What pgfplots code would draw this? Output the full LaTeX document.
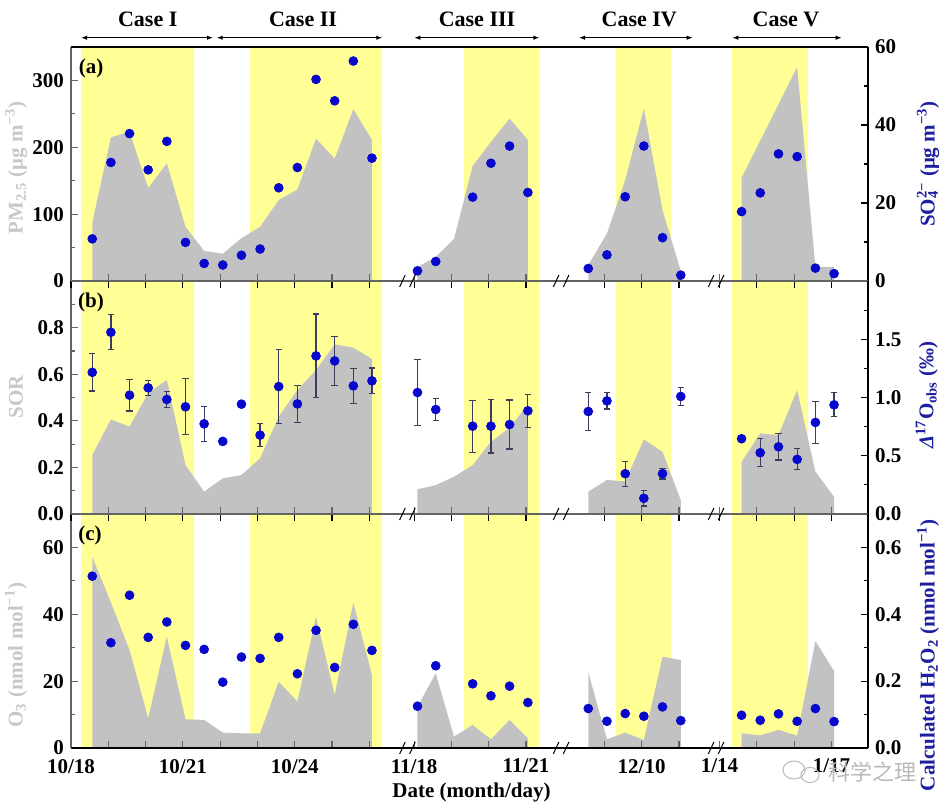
\documentclass[border=0pt]{standalone}
\usepackage{fontspec}
\setmainfont{Liberation Serif}
\newfontfamily\cjk{Noto Sans CJK SC}
\usepackage{pgfplots}
\usepackage{pgfplotstable}
\pgfplotsset{compat=1.18}
\usetikzlibrary{arrows.meta}

\definecolor{band}{RGB}{255,255,150}
\definecolor{area}{RGB}{194,194,194}
\definecolor{dot}{RGB}{8,8,205}
\definecolor{rlab}{RGB}{30,30,160}
\definecolor{llab}{RGB}{200,200,200}
\definecolor{lgray}{RGB}{100,100,100}
\definecolor{ebar}{RGB}{60,60,95}
\newcommand\tf{\fontsize{10.5}{12}\selectfont\bfseries}

% ---------- blue dots (right axes) ----------
\pgfplotstableread[row sep=\\]{
x y\\
0.57 10.8\\ 1.07 30.4\\ 1.57 37.8\\ 2.07 28.5\\ 2.57 35.8\\ 3.07 9.9\\ 3.57 4.5\\ 4.07 4.1\\
4.57 6.6\\ 5.07 8.2\\ 5.57 23.9\\ 6.07 29.1\\ 6.57 51.7\\ 7.07 46.2\\ 7.57 56.4\\ 8.07 31.5\\
9.29 2.6\\ 9.78 5.0\\ 10.77 21.5\\ 11.26 30.2\\ 11.76 34.6\\ 12.25 22.7\\
13.87 3.2\\ 14.37 6.7\\ 14.86 21.6\\ 15.36 34.6\\ 15.86 11.1\\ 16.35 1.5\\
17.98 17.8\\ 18.48 22.6\\ 18.97 32.6\\ 19.47 31.9\\ 19.96 3.3\\ 20.46 1.9\\
}\soa
\pgfplotstableread[row sep=\\]{
x y e\\
0.57 1.216 0.16\\ 1.07 1.56 0.15\\ 1.57 1.02 0.135\\ 2.07 1.083 0.065\\ 2.57 0.983 0.07\\
3.07 0.92 0.24\\ 3.57 0.774 0.15\\ 4.07 0.623 0\\ 4.57 0.943 0\\ 5.07 0.677 0.1\\
5.57 1.094 0.32\\ 6.07 0.945 0.157\\ 6.57 1.357 0.36\\ 7.07 1.314 0.21\\ 7.57 1.10 0.15\\ 8.07 1.143 0.11\\
9.29 1.043 0.28\\ 9.78 0.897 0.095\\ 10.77 0.754 0.223\\ 11.26 0.754 0.23\\ 11.76 0.768 0.21\\ 12.25 0.886 0.14\\
13.87 0.88 0.16\\ 14.37 0.971 0.07\\ 14.86 0.346 0.107\\ 15.36 0.135 0.067\\ 15.86 0.346 0.046\\ 16.35 1.009 0.077\\
17.98 0.646 0\\ 18.48 0.526 0.12\\ 18.97 0.577 0.114\\ 19.47 0.469 0.09\\ 19.96 0.786 0.18\\ 20.46 0.937 0.103\\
}\dob
\pgfplotstableread[row sep=\\]{
x y\\
0.57 0.514\\ 1.07 0.315\\ 1.57 0.457\\ 2.07 0.331\\ 2.57 0.377\\ 3.07 0.307\\ 3.57 0.295\\ 4.07 0.197\\
4.57 0.272\\ 5.07 0.268\\ 5.57 0.331\\ 6.07 0.222\\ 6.57 0.352\\ 7.07 0.241\\ 7.57 0.37\\ 8.07 0.292\\
9.29 0.125\\ 9.78 0.246\\ 10.77 0.192\\ 11.26 0.156\\ 11.76 0.185\\ 12.25 0.136\\
13.87 0.118\\ 14.37 0.08\\ 14.86 0.103\\ 15.36 0.095\\ 15.86 0.123\\ 16.35 0.082\\
17.98 0.098\\ 18.48 0.083\\ 18.97 0.102\\ 19.47 0.08\\ 19.96 0.118\\ 20.46 0.079\\
}\hoc

\pgfplotsset{
  panelbase/.style={scale only axis, width=398.5pt, xmin=0, xmax=21.37,
    tick align=inside, major tick length=3.5pt, minor tick length=2pt,
    /pgf/number format/assume math mode=true,
    ticklabel style={font=\tf, text=black},
    xticklabel style={yshift=-2pt},
    xtick={0,1,2,3,4,5,6,7,8,9.2,10.2,11.2,12.2,14.3,15.3,16.3,17.39,18.39,19.39,20.39},
    xticklabels={}, axis on top},
  leftpanel/.style={panelbase, axis x line*=bottom, axis y line*=left,
    axis line style={lgray, line width=0.75pt}, tick style={lgray, line width=0.6pt}},
  rightpanel/.style={panelbase, axis x line*=top, axis y line*=right,
    y axis line style={black, line width=0.75pt}, x axis line style={lgray, line width=0.75pt},
    tick style={black, line width=0.6pt}},
  bandplot/.style={fill=band, draw=none, forget plot},
  areaplot/.style={fill=area, draw=none, forget plot},
  dotplot/.style={only marks, mark=*, mark size=2.2pt, mark options={draw=dot, fill=dot}},
}

\begin{document}
\begin{tikzpicture}
\path[use as bounding box] (0,0) rectangle (474pt,-405pt);

% ================= Panel (a) =================
\begin{axis}[leftpanel, at={(35.5pt,-23.5pt)}, anchor=north west, height=117pt,
  ymin=0, ymax=350, ytick={0,100,200,300}, yticklabels={0,100,200,300}, minor ytick={50,150,250}]
\addplot[bandplot] coordinates {(0.268,350) (3.306,350)} \closedcycle;
\addplot[bandplot] coordinates {(4.8,350) (8.346,350)} \closedcycle;
\addplot[bandplot] coordinates {(10.544,350) (12.555,350)} \closedcycle;
\addplot[bandplot] coordinates {(14.60,350) (16.10,350)} \closedcycle;
\addplot[bandplot] coordinates {(17.73,350) (19.75,350)} \closedcycle;
\addplot[areaplot] coordinates {(0.57,87)(1.07,215)(1.57,223)(2.07,139)(2.57,176)(3.07,81)(3.57,45)(4.07,41)(4.57,64)(5.07,81)(5.57,121)(6.07,137)(6.57,213)(7.07,183)(7.57,257)(8.07,211)} \closedcycle;
\addplot[areaplot] coordinates {(9.29,21)(9.78,36)(10.27,63)(10.77,172)(11.26,208)(11.76,243)(12.25,211)} \closedcycle;
\addplot[areaplot] coordinates {(13.87,24)(14.37,71)(14.86,151)(15.36,258)(15.86,106)(16.35,15)} \closedcycle;
\addplot[areaplot] coordinates {(17.98,154)(19.47,320)(19.96,21)(20.46,21)} \closedcycle;
\end{axis}
\begin{axis}[rightpanel, at={(35.5pt,-23.5pt)}, anchor=north west, height=117pt,
  xtick=\empty, x axis line style={black},
  ymin=0, ymax=60, ytick={0,20,40,60}, yticklabels={0,20,40,60}, minor ytick={10,30,50}]
\addplot[dotplot] table[x=x,y=y] {\soa};
\end{axis}

% ================= Panel (b) =================
\begin{axis}[leftpanel, at={(35.5pt,-140.5pt)}, anchor=north west, height=116.5pt,
  ymin=0, ymax=1, ytick={0,0.2,0.4,0.6,0.8}, yticklabels={0.0,0.2,0.4,0.6,0.8}, minor ytick={0.1,0.3,0.5,0.7,0.9}]
\addplot[bandplot] coordinates {(0.268,1) (3.306,1)} \closedcycle;
\addplot[bandplot] coordinates {(4.8,1) (8.346,1)} \closedcycle;
\addplot[bandplot] coordinates {(10.544,1) (12.555,1)} \closedcycle;
\addplot[bandplot] coordinates {(14.60,1) (16.10,1)} \closedcycle;
\addplot[bandplot] coordinates {(17.73,1) (19.75,1)} \closedcycle;
\addplot[areaplot] coordinates {(0.57,0.253)(1.07,0.406)(1.57,0.375)(2.07,0.52)(2.57,0.575)(3.07,0.21)(3.57,0.096)(4.07,0.153)(4.57,0.167)(5.07,0.239)(5.57,0.418)(6.07,0.532)(6.57,0.618)(7.07,0.728)(7.57,0.714)(8.07,0.665)} \closedcycle;
\addplot[areaplot] coordinates {(9.29,0.106)(9.78,0.124)(10.27,0.16)(10.77,0.21)(11.26,0.31)(11.76,0.37)(12.25,0.47)} \closedcycle;
\addplot[areaplot] coordinates {(13.87,0.096)(14.37,0.146)(14.86,0.14)(15.36,0.32)(15.86,0.267)(16.35,0.06)} \closedcycle;
\addplot[areaplot] coordinates {(17.98,0.224)(18.48,0.346)(18.97,0.339)(19.47,0.532)(19.96,0.182)(20.46,0.074)} \closedcycle;
\end{axis}
\begin{axis}[rightpanel, at={(35.5pt,-140.5pt)}, anchor=north west, height=116.5pt,
  ymin=0, ymax=2, ytick={0,0.5,1,1.5}, yticklabels={0.0,0.5,1.0,1.5}, minor ytick={0.25,0.75,1.25,1.75}]
\addplot[dotplot, error bars/.cd, y dir=both, y explicit,
  error bar style={ebar, line width=0.6pt},
  error mark options={ebar, rotate=90, mark size=1.6pt, line width=0.6pt}]
  table[x=x,y=y,y error=e] {\dob};
\end{axis}

% ================= Panel (c) =================
\begin{axis}[leftpanel, at={(35.5pt,-257pt)}, anchor=north west, height=117pt,
  x axis line style={black},
  xticklabels={10/18,,,10/21,,,10/24,,,11/18,,,11/21,,12/10,,1/14,,,1/17},
  ymin=0, ymax=70, ytick={0,20,40,60}, yticklabels={0,20,40,60}, minor ytick={10,30,50}]
\addplot[bandplot] coordinates {(0.268,70) (3.306,70)} \closedcycle;
\addplot[bandplot] coordinates {(4.8,70) (8.346,70)} \closedcycle;
\addplot[bandplot] coordinates {(10.544,70) (12.555,70)} \closedcycle;
\addplot[bandplot] coordinates {(14.60,70) (16.10,70)} \closedcycle;
\addplot[bandplot] coordinates {(17.73,70) (19.75,70)} \closedcycle;
\addplot[areaplot] coordinates {(0.57,57.2)(1.07,43.5)(1.57,29.3)(2.07,8.9)(2.57,33.3)(3.07,8.6)(3.57,8.4)(4.07,4.6)(4.57,4.4)(5.07,4.4)(5.57,19.8)(6.07,13.9)(6.57,39.3)(7.07,15.9)(7.57,43.5)(8.07,21.8)} \closedcycle;
\addplot[areaplot] coordinates {(9.29,12.4)(9.78,22.3)(10.27,3.4)(10.77,6.9)(11.26,2.6)(11.76,8.4)(12.25,2.9)} \closedcycle;
\addplot[areaplot] coordinates {(13.87,22.6)(14.37,2.6)(14.86,4.6)(15.36,2.4)(15.86,27.3)(16.35,26.3)} \closedcycle;
\addplot[areaplot] coordinates {(17.98,4.4)(18.48,3.8)(18.97,5.4)(19.47,3.7)(19.96,32)(20.46,23)} \closedcycle;
\end{axis}
\begin{axis}[rightpanel, at={(35.5pt,-257pt)}, anchor=north west, height=117pt,
  ymin=0, ymax=0.7, ytick={0,0.2,0.4,0.6}, yticklabels={0.0,0.2,0.4,0.6}, minor ytick={0.1,0.3,0.5}]
\addplot[dotplot] table[x=x,y=y] {\hoc};
\end{axis}

% ================= annotations =================
% axis breaks
\foreach \yy in {-140.5,-257,-374} {
  \foreach \xx in {204,280.85,358.35} {
    \draw[black, line width=0.5pt] ({\xx pt-4.2pt},{\yy pt-3pt}) -- ({\xx pt-1.4pt},{\yy pt+3pt});
    \draw[black, line width=0.5pt] ({\xx pt+0.8pt},{\yy pt-3pt}) -- ({\xx pt+3.6pt},{\yy pt+3pt});
  }
}
% case arrows
\tikzset{carrow/.style={{Latex[length=3pt,width=2.2pt]}-{Latex[length=3pt,width=2.2pt]}, line width=0.5pt}}
\draw[carrow] (40.5pt,-18.85pt) -- (106.5pt,-18.85pt);
\draw[carrow] (108.35pt,-18.85pt) -- (191.15pt,-18.85pt);
\draw[carrow] (207.15pt,-18.85pt) -- (269.65pt,-18.85pt);
\draw[carrow] (289.5pt,-18.85pt) -- (346.35pt,-18.85pt);
\draw[carrow] (366.15pt,-18.85pt) -- (420.85pt,-18.85pt);
\node[font=\fontsize{11}{13}\selectfont\bfseries] at (73.85pt,-9.65pt) {Case I};
\node[font=\fontsize{11}{13}\selectfont\bfseries] at (151.5pt,-9.65pt) {Case II};
\node[font=\fontsize{11}{13}\selectfont\bfseries] at (238.5pt,-9.65pt) {Case III};
\node[font=\fontsize{11}{13}\selectfont\bfseries] at (319.65pt,-9.65pt) {Case IV};
\node[font=\fontsize{11}{13}\selectfont\bfseries] at (393pt,-9.65pt) {Case V};
% panel labels
\node[font=\tf] at (45.5pt,-34pt) {(a)};
\node[font=\tf] at (45.5pt,-151.35pt) {(b)};
\node[font=\tf] at (45pt,-267.5pt) {(c)};
% axis titles
\node[font=\tf, text=llab, rotate=90] at (8pt,-84pt) {PM\textsubscript{2.5} (μg m\textsuperscript{−3})};
\node[font=\tf, text=rlab, rotate=90] at (464pt,-82pt) {SO\rlap{\textsubscript{4}}\textsuperscript{2−} (μg m\textsuperscript{−3})};
\node[font=\tf, text=llab, rotate=90] at (8pt,-198.5pt) {SOR};
\node[font=\tf, text=rlab, rotate=90] at (463.35pt,-197.5pt) {\textit{Δ}\textsuperscript{17}O\textsubscript{obs} (‰)};
\node[font=\tf, text=llab, rotate=90] at (8pt,-327.5pt) {O\textsubscript{3} (nmol mol\textsuperscript{−1})};
\node[font=\tf, text=rlab, rotate=90] at (464pt,-327.5pt) {Calculated H\textsubscript{2}O\textsubscript{2} (nmol mol\textsuperscript{−1})};
\node[font=\tf] at (235.75pt,-396pt) {Date (month/day)};
% watermark
\draw[gray!55, line width=0.5pt] (397pt,-385pt) ellipse (5.5pt and 4.5pt);
\draw[gray!55, line width=0.5pt] (405pt,-387.5pt) ellipse (4.5pt and 3.8pt);
\node[text=gray!55, font=\cjk\fontsize{11}{13}\selectfont] at (436pt,-386pt) {科学之理};
\end{tikzpicture}
\end{document}
